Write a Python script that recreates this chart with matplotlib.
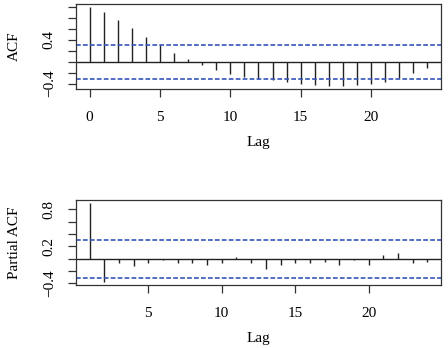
import numpy as np
import matplotlib.pyplot as plt

plt.rcParams["font.family"] = ["Liberation Serif", "DejaVu Serif"]
plt.rcParams["lines.scale_dashes"] = False

# ACF, lags 0..24
acf_lags = list(range(0, 25))
acf_vals = [1.00, 0.91, 0.77, 0.62, 0.45, 0.31, 0.157, 0.048, -0.06, -0.15,
            -0.22, -0.27, -0.31, -0.33, -0.37, -0.41, -0.42, -0.445, -0.445,
            -0.42, -0.41, -0.37, -0.29, -0.205, -0.115]

# PACF, lags 1..24
pacf_lags = list(range(1, 25))
pacf_vals = [0.90, -0.377, -0.065, -0.125, -0.065, -0.027, -0.065, -0.065,
             -0.11, -0.065, 0.03, -0.07, -0.167, -0.10, -0.075, -0.075,
             -0.06, -0.10, -0.03, -0.10, 0.065, 0.086, -0.075, -0.055]

ci = 0.31

acf_yticks = [-0.4, -0.2, 0.0, 0.2, 0.4, 0.6, 0.8, 1.0]
acf_ylabels = ["\u22120.4", "", "", "", "0.4", "", "", ""]
pacf_yticks = [-0.4, -0.2, 0.0, 0.2, 0.4, 0.6, 0.8]
pacf_ylabels = ["\u22120.4", "", "", "0.2", "", "", "0.8"]


def padded(lo, hi):
    d = (hi - lo) * 0.04
    return lo - d, hi + d


def draw(ax, lags, vals, xticks, yticks, ylabels, ylabel):
    ax.vlines(lags, 0, vals, color="#222222", lw=1.0)
    ax.axhline(0, color="#222222", lw=1.0)
    for c in (ci, -ci):
        ax.axhline(c, color="#3355bb", lw=1.2, ls=(0, (3.4, 1.6)))
    ax.set_xlim(*padded(min(lags), max(lags)))
    ax.set_ylim(*padded(min(min(vals), -ci), max(max(vals), ci)))
    ax.set_xticks(xticks)
    ax.set_yticks(yticks)
    ax.set_yticklabels(ylabels, rotation=90, va="center")
    ax.tick_params(axis="x", pad=10)
    ax.tick_params(axis="y", pad=9)
    ax.tick_params(length=5.5, width=0.9, color="#333333", labelsize=11)
    for s in ax.spines.values():
        s.set_color("#333333")
        s.set_linewidth(0.9)
    ax.set_xlabel("Lag", fontsize=11, labelpad=9)
    ax.set_ylabel(ylabel, fontsize=11, labelpad=16)


fig = plt.figure(figsize=(4.48, 3.48), dpi=100)
ax1 = fig.add_axes([0.1696, 0.7434, 0.8148, 0.2451])
ax2 = fig.add_axes([0.1696, 0.181, 0.8148, 0.2443])

draw(ax1, acf_lags, acf_vals, [0, 5, 10, 15, 20], acf_yticks, acf_ylabels, "ACF")
draw(ax2, pacf_lags, pacf_vals, [5, 10, 15, 20], pacf_yticks, pacf_ylabels, "Partial ACF")

fig.savefig("out.png", dpi=100)
